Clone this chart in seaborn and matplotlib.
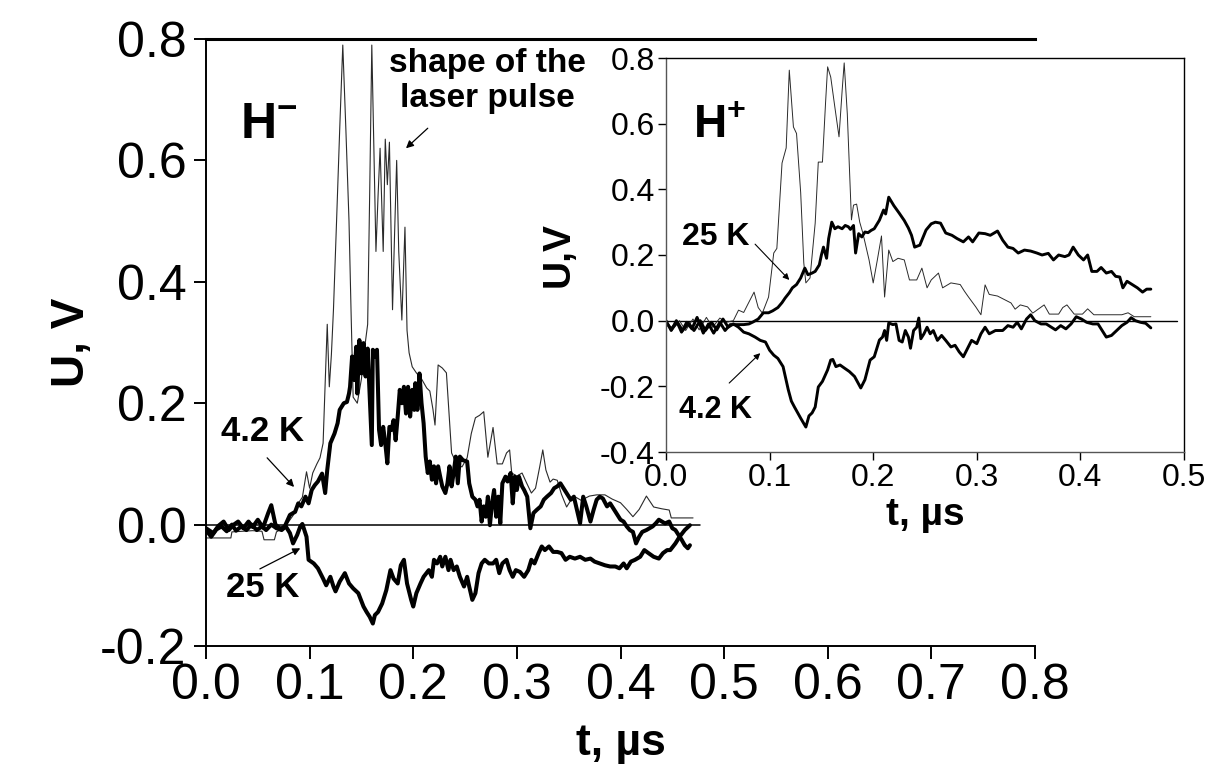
import matplotlib
matplotlib.use("Agg")
import matplotlib.pyplot as plt
import seaborn as sns

# ---------------- H- panel (main axes) ----------------
# shape of the laser pulse (thin trace): (t in us, U in V)
hm_laser = [
    (0.000, -0.022), (0.024, -0.022), (0.025, -0.012), (0.045, -0.010), (0.054, -0.011),
    (0.056, -0.025), (0.066, -0.025), (0.068, -0.012), (0.074, -0.006), (0.079, 0.003),
    (0.084, 0.015), (0.089, 0.035), (0.093, 0.045), (0.097, 0.087), (0.100, 0.060),
    (0.103, 0.085), (0.107, 0.100), (0.110, 0.110), (0.113, 0.134), (0.115, 0.233),
    (0.117, 0.330), (0.119, 0.227), (0.121, 0.280), (0.123, 0.354), (0.126, 0.500),
    (0.129, 0.650), (0.132, 0.790), (0.135, 0.650), (0.138, 0.500), (0.140, 0.350),
    (0.142, 0.210), (0.146, 0.200), (0.150, 0.240), (0.153, 0.290), (0.156, 0.330),
    (0.158, 0.550), (0.160, 0.790), (0.162, 0.620), (0.164, 0.450), (0.166, 0.540),
    (0.168, 0.620), (0.171, 0.450), (0.173, 0.635), (0.175, 0.560), (0.177, 0.630),
    (0.180, 0.354), (0.182, 0.480), (0.184, 0.600), (0.186, 0.450), (0.189, 0.337),
    (0.192, 0.490), (0.194, 0.320), (0.196, 0.283), (0.199, 0.260), (0.203, 0.250),
    (0.208, 0.240), (0.213, 0.225), (0.216, 0.220), (0.219, 0.190), (0.221, 0.164),
    (0.224, 0.263), (0.228, 0.258), (0.232, 0.250), (0.237, 0.118), (0.242, 0.100),
    (0.247, 0.095), (0.252, 0.110), (0.256, 0.150), (0.260, 0.176), (0.264, 0.180),
    (0.268, 0.186), (0.272, 0.111), (0.277, 0.160), (0.281, 0.100), (0.286, 0.100),
    (0.290, 0.118), (0.293, 0.123), (0.295, 0.085), (0.300, 0.080), (0.305, 0.085),
    (0.309, 0.070), (0.314, 0.052), (0.318, 0.060), (0.322, 0.095), (0.325, 0.123),
    (0.328, 0.090), (0.332, 0.070), (0.335, 0.075), (0.339, 0.073), (0.343, 0.050),
    (0.348, 0.029), (0.352, 0.040), (0.357, 0.045), (0.362, 0.040), (0.370, 0.047),
    (0.377, 0.049), (0.385, 0.049), (0.392, 0.042), (0.400, 0.036), (0.406, 0.025),
    (0.412, 0.013), (0.418, 0.025), (0.425, 0.047), (0.432, 0.029), (0.440, 0.026),
    (0.447, 0.024), (0.449, 0.011), (0.470, 0.011),
]

# 4.2 K signal
hm_42K = [
    (0.000, -0.006), (0.007, -0.014), (0.012, -0.002), (0.017, 0.005), (0.022, -0.009),
    (0.026, -0.001), (0.031, 0.005), (0.036, -0.006), (0.041, 0.005), (0.045, -0.004),
    (0.050, 0.008), (0.055, -0.005), (0.060, 0.019), (0.063, 0.032), (0.067, 0.000),
    (0.072, -0.007), (0.076, -0.003), (0.081, 0.016), (0.086, 0.021), (0.089, 0.035),
    (0.092, 0.030), (0.096, 0.046), (0.099, 0.035), (0.102, 0.057), (0.105, 0.065),
    (0.108, 0.071), (0.112, 0.084), (0.115, 0.052), (0.117, 0.090), (0.120, 0.134),
    (0.124, 0.150), (0.127, 0.167), (0.129, 0.189), (0.133, 0.200), (0.136, 0.202),
    (0.138, 0.216), (0.139, 0.227), (0.141, 0.277), (0.143, 0.238), (0.145, 0.293),
    (0.146, 0.216), (0.148, 0.304), (0.150, 0.249), (0.152, 0.299), (0.154, 0.244),
    (0.156, 0.290), (0.158, 0.211), (0.160, 0.131), (0.161, 0.288), (0.163, 0.277),
    (0.165, 0.288), (0.167, 0.156), (0.169, 0.131), (0.171, 0.161), (0.173, 0.134),
    (0.175, 0.101), (0.177, 0.161), (0.179, 0.156), (0.181, 0.172), (0.183, 0.139),
    (0.185, 0.178), (0.187, 0.222), (0.189, 0.200), (0.191, 0.227), (0.193, 0.183),
    (0.195, 0.227), (0.197, 0.178), (0.199, 0.222), (0.201, 0.189), (0.202, 0.233),
    (0.204, 0.189), (0.206, 0.249), (0.208, 0.200), (0.210, 0.167), (0.212, 0.112),
    (0.214, 0.085), (0.216, 0.104), (0.218, 0.074), (0.220, 0.096), (0.222, 0.068),
    (0.224, 0.096), (0.226, 0.079), (0.228, 0.063), (0.231, 0.052), (0.233, 0.068),
    (0.235, 0.096), (0.237, 0.063), (0.239, 0.085), (0.241, 0.112), (0.243, 0.068),
    (0.245, 0.112), (0.248, 0.106), (0.252, 0.104), (0.254, 0.068), (0.257, 0.046),
    (0.260, 0.041), (0.262, 0.030), (0.264, 0.041), (0.266, 0.005), (0.268, 0.030),
    (0.270, 0.013), (0.272, 0.046), (0.274, -0.001), (0.276, 0.035), (0.278, 0.057),
    (0.280, 0.013), (0.282, 0.046), (0.284, 0.002), (0.286, 0.068), (0.289, 0.079),
    (0.291, 0.071), (0.294, 0.085), (0.296, 0.035), (0.298, 0.079), (0.300, 0.057),
    (0.302, 0.079), (0.305, 0.063), (0.307, 0.057), (0.310, 0.046), (0.313, -0.006),
    (0.316, 0.019), (0.319, 0.024), (0.323, 0.030), (0.326, 0.041), (0.329, 0.046),
    (0.333, 0.052), (0.336, 0.060), (0.339, 0.063), (0.342, 0.068), (0.345, 0.060),
    (0.349, 0.049), (0.352, 0.041), (0.355, 0.046), (0.358, 0.024), (0.361, 0.002),
    (0.364, 0.046), (0.367, 0.030), (0.371, 0.005), (0.374, 0.024), (0.377, 0.041),
    (0.380, 0.046), (0.383, 0.043), (0.387, 0.030), (0.390, 0.035), (0.393, 0.027),
    (0.396, 0.019), (0.400, 0.008), (0.403, 0.005), (0.406, -0.003), (0.409, -0.009),
    (0.412, -0.012), (0.415, -0.031), (0.418, -0.020), (0.421, -0.012), (0.425, -0.009),
    (0.428, -0.006), (0.431, -0.003), (0.434, 0.002), (0.437, 0.008), (0.440, 0.005),
    (0.443, 0.002), (0.447, 0.005), (0.450, -0.006), (0.453, -0.009), (0.456, -0.017),
    (0.459, -0.025), (0.462, -0.034), (0.465, -0.039), (0.467, -0.034),
]

# 25 K signal
hm_25K = [
    (0.000, -0.009), (0.005, -0.020), (0.010, -0.008), (0.015, -0.003), (0.020, -0.011),
    (0.025, 0.000), (0.029, -0.010), (0.034, -0.003), (0.039, -0.009), (0.044, 0.000),
    (0.049, -0.009), (0.054, -0.003), (0.058, -0.009), (0.063, 0.000), (0.068, -0.006),
    (0.073, -0.009), (0.077, -0.003), (0.081, -0.014), (0.084, -0.031), (0.088, -0.017),
    (0.091, -0.003), (0.093, 0.001), (0.097, -0.020), (0.099, -0.058), (0.104, -0.064),
    (0.108, -0.072), (0.113, -0.089), (0.116, -0.100), (0.120, -0.086), (0.123, -0.102),
    (0.125, -0.110), (0.129, -0.094), (0.134, -0.080), (0.138, -0.097), (0.142, -0.105),
    (0.147, -0.113), (0.152, -0.135), (0.155, -0.144), (0.158, -0.152), (0.161, -0.163),
    (0.163, -0.149), (0.166, -0.144), (0.170, -0.130), (0.174, -0.108), (0.178, -0.075),
    (0.181, -0.089), (0.185, -0.097), (0.188, -0.067), (0.191, -0.058), (0.194, -0.097),
    (0.198, -0.124), (0.200, -0.135), (0.203, -0.113), (0.207, -0.097), (0.210, -0.086),
    (0.215, -0.075), (0.218, -0.086), (0.220, -0.058), (0.223, -0.064), (0.226, -0.053),
    (0.228, -0.069), (0.231, -0.053), (0.234, -0.075), (0.236, -0.058), (0.239, -0.075),
    (0.242, -0.069), (0.245, -0.086), (0.249, -0.102), (0.252, -0.086), (0.254, -0.102),
    (0.257, -0.124), (0.260, -0.113), (0.263, -0.080), (0.266, -0.064), (0.269, -0.058),
    (0.273, -0.064), (0.277, -0.064), (0.280, -0.058), (0.283, -0.080), (0.286, -0.064),
    (0.290, -0.058), (0.293, -0.075), (0.296, -0.086), (0.299, -0.075), (0.303, -0.078),
    (0.307, -0.086), (0.311, -0.075), (0.314, -0.058), (0.317, -0.064), (0.321, -0.047),
    (0.324, -0.036), (0.327, -0.042), (0.331, -0.036), (0.335, -0.045), (0.339, -0.045),
    (0.343, -0.047), (0.347, -0.058), (0.351, -0.053), (0.356, -0.056), (0.361, -0.053),
    (0.366, -0.058), (0.371, -0.056), (0.375, -0.061), (0.380, -0.064), (0.385, -0.067),
    (0.390, -0.069), (0.395, -0.069), (0.399, -0.072), (0.403, -0.064), (0.406, -0.072),
    (0.410, -0.061), (0.414, -0.058), (0.419, -0.053), (0.423, -0.042), (0.427, -0.047),
    (0.432, -0.053), (0.437, -0.056), (0.441, -0.047), (0.445, -0.042), (0.448, -0.042),
    (0.453, -0.031), (0.457, -0.020), (0.462, -0.009), (0.467, -0.001),
]

# ---------------- H+ panel (inset) ----------------
hp_laser = [
    (0.000, -0.004), (0.006, -0.030), (0.013, 0.000), (0.019, -0.030), (0.026, 0.005),
    (0.032, -0.028), (0.039, 0.010), (0.045, -0.020), (0.052, 0.008), (0.058, -0.005),
    (0.065, 0.000), (0.070, 0.032), (0.075, 0.025), (0.079, 0.050), (0.085, 0.087),
    (0.089, 0.040), (0.093, 0.023), (0.099, 0.072), (0.104, 0.206), (0.107, 0.220),
    (0.112, 0.480), (0.116, 0.526), (0.119, 0.763), (0.123, 0.590), (0.126, 0.570),
    (0.130, 0.390), (0.133, 0.176), (0.135, 0.115), (0.139, 0.130), (0.144, 0.297),
    (0.147, 0.483), (0.151, 0.483), (0.154, 0.663), (0.156, 0.773), (0.159, 0.742),
    (0.163, 0.650), (0.167, 0.560), (0.170, 0.700), (0.172, 0.785), (0.175, 0.630),
    (0.179, 0.307), (0.181, 0.352), (0.184, 0.355), (0.187, 0.300), (0.190, 0.267),
    (0.196, 0.185), (0.200, 0.115), (0.204, 0.185), (0.208, 0.258), (0.211, 0.072),
    (0.215, 0.215), (0.219, 0.180), (0.224, 0.190), (0.230, 0.185), (0.235, 0.124),
    (0.242, 0.124), (0.247, 0.160), (0.252, 0.100), (0.256, 0.124), (0.263, 0.145),
    (0.267, 0.100), (0.275, 0.115), (0.284, 0.110), (0.288, 0.090), (0.292, 0.072),
    (0.299, 0.042), (0.304, 0.018), (0.308, 0.109), (0.312, 0.080), (0.320, 0.075),
    (0.333, 0.054), (0.337, 0.035), (0.342, 0.048), (0.349, 0.042), (0.354, 0.023),
    (0.365, 0.048), (0.370, 0.020), (0.379, 0.020), (0.383, 0.040), (0.387, 0.048),
    (0.394, 0.020), (0.402, 0.020), (0.407, 0.036), (0.413, 0.018), (0.440, 0.018),
    (0.446, 0.024), (0.452, 0.012), (0.468, 0.012),
]

hp_25K = [
    (0.000, 0.000), (0.005, -0.030), (0.010, 0.000), (0.015, -0.035), (0.020, -0.005),
    (0.025, -0.025), (0.030, 0.010), (0.036, -0.038), (0.041, -0.010), (0.046, -0.038),
    (0.052, -0.005), (0.057, -0.030), (0.062, -0.012), (0.068, -0.012), (0.075, -0.012),
    (0.080, -0.010), (0.084, -0.004), (0.089, 0.005), (0.094, 0.024), (0.099, 0.024),
    (0.103, 0.030), (0.108, 0.040), (0.112, 0.055), (0.115, 0.069), (0.119, 0.085),
    (0.122, 0.100), (0.126, 0.110), (0.130, 0.130), (0.134, 0.160), (0.137, 0.140),
    (0.141, 0.145), (0.144, 0.150), (0.148, 0.170), (0.150, 0.200), (0.152, 0.224),
    (0.155, 0.190), (0.157, 0.250), (0.160, 0.300), (0.163, 0.280), (0.166, 0.286),
    (0.170, 0.280), (0.173, 0.290), (0.176, 0.286), (0.178, 0.278), (0.181, 0.290),
    (0.183, 0.206), (0.186, 0.265), (0.189, 0.255), (0.192, 0.270), (0.195, 0.268),
    (0.198, 0.275), (0.201, 0.280), (0.206, 0.306), (0.210, 0.337), (0.212, 0.325),
    (0.215, 0.376), (0.220, 0.350), (0.225, 0.328), (0.230, 0.305), (0.234, 0.282),
    (0.237, 0.260), (0.240, 0.224), (0.245, 0.230), (0.251, 0.276), (0.256, 0.295),
    (0.260, 0.300), (0.265, 0.297), (0.270, 0.267), (0.276, 0.260), (0.281, 0.250),
    (0.287, 0.240), (0.292, 0.255), (0.296, 0.240), (0.302, 0.267), (0.308, 0.265),
    (0.313, 0.260), (0.320, 0.273), (0.325, 0.245), (0.330, 0.224), (0.335, 0.220),
    (0.340, 0.206), (0.346, 0.215), (0.352, 0.212), (0.358, 0.206), (0.363, 0.200),
    (0.369, 0.205), (0.374, 0.185), (0.379, 0.200), (0.385, 0.195), (0.389, 0.200),
    (0.393, 0.224), (0.398, 0.200), (0.403, 0.185), (0.407, 0.200), (0.411, 0.150),
    (0.416, 0.150), (0.420, 0.162), (0.425, 0.145), (0.430, 0.150), (0.434, 0.135),
    (0.438, 0.133), (0.441, 0.100), (0.445, 0.120), (0.450, 0.110), (0.455, 0.100),
    (0.460, 0.087), (0.464, 0.096), (0.468, 0.096),
]

hp_42K = [
    (0.000, -0.005), (0.005, -0.025), (0.011, -0.005), (0.016, -0.030), (0.022, -0.008),
    (0.027, -0.030), (0.033, 0.000), (0.038, -0.030), (0.044, -0.005), (0.049, -0.028),
    (0.055, 0.005), (0.060, -0.020), (0.065, -0.010), (0.070, -0.020), (0.075, -0.035),
    (0.080, -0.040), (0.086, -0.050), (0.091, -0.060), (0.096, -0.065), (0.100, -0.090),
    (0.104, -0.105), (0.108, -0.115), (0.113, -0.140), (0.118, -0.210), (0.121, -0.245),
    (0.124, -0.263), (0.127, -0.280), (0.130, -0.297), (0.135, -0.324), (0.138, -0.290),
    (0.141, -0.281), (0.144, -0.263), (0.147, -0.202), (0.151, -0.185), (0.156, -0.150),
    (0.159, -0.120), (0.161, -0.118), (0.164, -0.140), (0.168, -0.135), (0.172, -0.144),
    (0.177, -0.155), (0.182, -0.170), (0.188, -0.205), (0.192, -0.180), (0.197, -0.120),
    (0.201, -0.110), (0.206, -0.059), (0.209, -0.050), (0.211, -0.030), (0.213, -0.060),
    (0.215, -0.007), (0.219, -0.012), (0.222, -0.010), (0.225, -0.060), (0.228, -0.065),
    (0.231, -0.030), (0.234, -0.050), (0.236, -0.084), (0.239, -0.030), (0.242, -0.020),
    (0.244, 0.008), (0.246, -0.055), (0.249, -0.040), (0.252, -0.020), (0.255, -0.040),
    (0.258, -0.030), (0.262, -0.060), (0.266, -0.045), (0.270, -0.060), (0.275, -0.080),
    (0.279, -0.075), (0.283, -0.095), (0.287, -0.110), (0.291, -0.085), (0.295, -0.060),
    (0.300, -0.070), (0.304, -0.040), (0.308, -0.020), (0.312, -0.040), (0.318, -0.030),
    (0.325, -0.030), (0.330, -0.015), (0.335, -0.020), (0.339, -0.005), (0.343, -0.025),
    (0.348, 0.005), (0.352, 0.018), (0.356, 0.000), (0.362, -0.010), (0.367, -0.010),
    (0.372, -0.020), (0.376, -0.028), (0.381, -0.015), (0.386, -0.025), (0.391, -0.010),
    (0.396, 0.012), (0.401, 0.005), (0.406, -0.005), (0.412, -0.010), (0.417, -0.010),
    (0.421, -0.030), (0.425, -0.050), (0.430, -0.045), (0.435, -0.030), (0.440, -0.015),
    (0.445, -0.005), (0.449, 0.009), (0.453, 0.000), (0.458, -0.005), (0.463, -0.008),
    (0.468, -0.022),
]

# zero reference lines (t-extent)
hm_zero_t = [0.0, 0.477]
hp_zero_t = [0.0, 0.493]

main_xticks = [0.0, 0.1, 0.2, 0.3, 0.4, 0.5, 0.6, 0.7, 0.8]
main_yticks = [-0.2, 0.0, 0.2, 0.4, 0.6, 0.8]
inset_xticks = [0.0, 0.1, 0.2, 0.3, 0.4, 0.5]
inset_yticks = [-0.4, -0.2, 0.0, 0.2, 0.4, 0.6, 0.8]

# ---------------- styling ----------------
sns.set_theme(style="ticks")
plt.rcParams["font.family"] = ["Liberation Sans", "DejaVu Sans"]
plt.rcParams["axes.unicode_minus"] = False
plt.rcParams["text.color"] = "black"
plt.rcParams["axes.labelcolor"] = "black"
plt.rcParams["xtick.color"] = "black"
plt.rcParams["ytick.color"] = "black"
plt.rcParams["mathtext.fontset"] = "custom"
plt.rcParams["mathtext.rm"] = "Liberation Sans"
plt.rcParams["mathtext.bf"] = "Liberation Sans:bold"

W, H = 1212, 771
fig = plt.figure(figsize=(W / 100, H / 100), dpi=100)
fig.patch.set_facecolor("white")


def trace(ax, pairs, lw, color="black"):
    t = [p[0] for p in pairs]
    u = [p[1] for p in pairs]
    sns.lineplot(x=t, y=u, ax=ax, color=color, linewidth=lw,
                 estimator=None, sort=False, legend=False)


def fmt(v):
    return f"{v:.1f}"


# ---------------- main axes: H- ----------------
ax = fig.add_axes([206 / W, 1 - 646 / H, 829 / W, 607 / H])
ax.set_facecolor("white")
sns.lineplot(x=hm_zero_t, y=[0.0, 0.0], ax=ax, color="black", linewidth=1.1,
             estimator=None, legend=False)
trace(ax, hm_laser, 0.8, color="#2a2a2a")
trace(ax, hm_25K, 2.9)
trace(ax, hm_42K, 2.9)

ax.set_xlim(0.0, 0.8)
ax.set_ylim(-0.2, 0.8)
ax.set_xticks(main_xticks)
ax.set_xticklabels([fmt(v) for v in main_xticks])
ax.set_yticks(main_yticks)
ax.set_yticklabels([fmt(v) for v in main_yticks])
ax.tick_params(axis="both", direction="out", length=9, width=1.4,
               labelsize=36, colors="black")
ax.tick_params(axis="x", pad=3)
ax.tick_params(axis="y", pad=5)
ax.spines["right"].set_visible(False)
for s in ("left", "bottom"):
    ax.spines[s].set_linewidth(1.4)
    ax.spines[s].set_color("black")
ax.spines["top"].set_linewidth(2.2)
ax.spines["top"].set_color("black")

ax.set_xlabel("t, µs", fontsize=32, fontweight="bold", color="black")
ax.set_ylabel("U, V", fontsize=33, fontweight="bold", color="black")
ax.xaxis.set_label_coords(0.5, -0.127)
ax.yaxis.set_label_coords(-0.135, 0.5)

ax.text(0.033, 0.637, r"$\mathbf{H^{-}}$", fontsize=36, ha="left", va="baseline",
        color="black")
ax.text(0.272, 0.785, "shape of the\nlaser pulse", fontsize=24, fontweight="bold",
        ha="center", va="top", multialignment="center", linespacing=1.15,
        color="black")
ax.text(0.055, 0.153, "4.2 K", fontsize=25, fontweight="bold", ha="center",
        va="center", color="black")
ax.text(0.055, -0.104, "25 K", fontsize=25, fontweight="bold", ha="center",
        va="center", color="black")

arrow = dict(arrowstyle="-|>", lw=0.9, color="black", mutation_scale=11,
             shrinkA=0, shrinkB=0)
ax.annotate("", xy=(0.193, 0.620), xytext=(0.214, 0.653), arrowprops=arrow)
ax.annotate("", xy=(0.085, 0.062), xytext=(0.059, 0.110), arrowprops=arrow)
ax.annotate("", xy=(0.091, -0.039), xytext=(0.052, -0.073), arrowprops=arrow)

# ---------------- inset axes: H+ ----------------
ax2 = fig.add_axes([666 / W, 1 - 452 / H, 518 / W, 394 / H])
ax2.set_facecolor("white")
sns.lineplot(x=hp_zero_t, y=[0.0, 0.0], ax=ax2, color="black", linewidth=1.0,
             estimator=None, legend=False)
trace(ax2, hp_laser, 0.7, color="#2a2a2a")
trace(ax2, hp_42K, 2.1)
trace(ax2, hp_25K, 2.1)

ax2.set_xlim(0.0, 0.5)
ax2.set_ylim(-0.4, 0.8)
ax2.set_xticks(inset_xticks)
ax2.set_xticklabels([fmt(v) for v in inset_xticks])
ax2.set_yticks(inset_yticks)
ax2.set_yticklabels([fmt(v) for v in inset_yticks])
ax2.tick_params(axis="both", direction="out", length=6, width=1.0,
                labelsize=23, colors="black")
ax2.tick_params(axis="x", pad=2)
ax2.tick_params(axis="y", pad=2)
for s in ("left", "bottom", "top", "right"):
    ax2.spines[s].set_linewidth(1.0)
    ax2.spines[s].set_color("black")
ax2.spines["left"].set_color("#555555")
ax2.spines["bottom"].set_color("#555555")

ax2.set_xlabel("t, µs", fontsize=28, fontweight="bold", color="black")
ax2.set_ylabel("U,V", fontsize=28, fontweight="bold", color="black")
ax2.xaxis.set_label_coords(0.5, -0.115)
ax2.yaxis.set_label_coords(-0.172, 0.5)

ax2.text(0.026, 0.556, r"$\mathbf{H^{+}}$", fontsize=33, ha="left", va="baseline",
         color="black")
ax2.text(0.048, 0.255, "25 K", fontsize=23, fontweight="bold", ha="center",
         va="center", color="black")
ax2.text(0.048, -0.272, "4.2 K", fontsize=22, fontweight="bold", ha="center",
         va="center", color="black")

arrow2 = dict(arrowstyle="-|>", lw=0.8, color="black", mutation_scale=9,
              shrinkA=0, shrinkB=0)
ax2.annotate("", xy=(0.119, 0.124), xytext=(0.086, 0.233), arrowprops=arrow2)
ax2.annotate("", xy=(0.091, -0.099), xytext=(0.061, -0.190), arrowprops=arrow2)

fig.savefig("out.png", dpi=100, facecolor="white")
